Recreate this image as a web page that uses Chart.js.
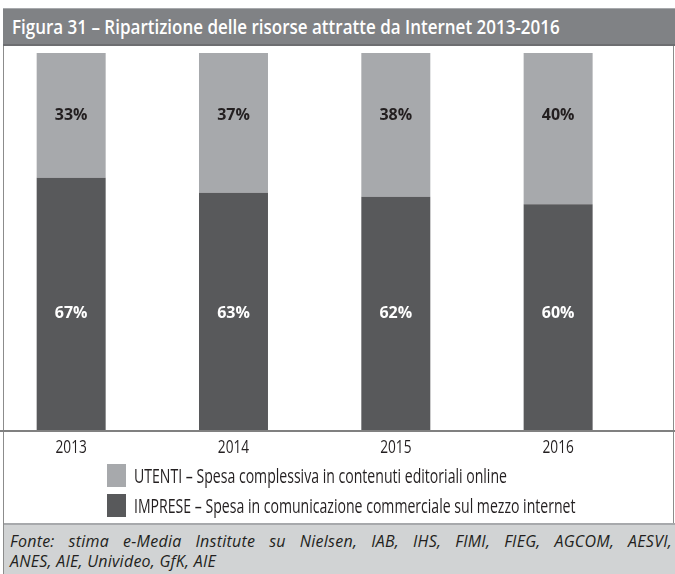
<!DOCTYPE html>
<html>
<head>
<meta charset="utf-8">
<script src="https://cdn.jsdelivr.net/npm/chart.js@4.4.1/dist/chart.umd.min.js"></script>
<style>
  html, body { margin: 0; padding: 0; background: #fff; }
  body { width: 675px; height: 574px; position: relative; overflow: hidden; font-family: 'Open Sans', sans-serif; color: #231f20; }
  #frame { position: absolute; left: 3px; top: 8px; width: 669px; height: 566px; border-left: 1px solid #8c8c8c; border-right: 1px solid #8c8c8c; }
  #titlebar { position: absolute; left: 3px; top: 8px; width: 672px; height: 35px; background: #808285; border-top: 1px solid #a7a9ac; border-bottom: 2px solid #6d6e71; }
  #title { position: absolute; left: 9px; top: 8px; font-size: 20px; line-height: 20px; font-weight: 600; color: #fff; white-space: nowrap; transform-origin: 0 0; }
  #chartwrap { position: absolute; left: -10px; top: 45px; width: 685px; height: 420px; }
  .leg-sw { position: absolute; left: 107px; width: 19px; height: 23px; }
  .leg-tx { position: absolute; left: 134px; font-size: 20px; line-height: 20px; white-space: nowrap; transform-origin: 0 0; color: #231f20; }
  #footer { position: absolute; left: 4px; top: 523px; width: 671px; height: 49px; background: #d1d3d4; border-top: 2px solid #a7a9ac; }
  #footer .l { position: absolute; left: 6px; width: 662px; font-size: 16px; line-height: 20px; font-style: italic; letter-spacing: 0.25px; white-space: nowrap; }
  #footer .l1 { top: 6px; text-align: justify; text-align-last: justify; white-space: normal; }
  #footer .l2 { top: 26px; }
</style>
</head>
<body>
<div id="frame"></div>
<div id="titlebar"><span id="title">Figura 31 – Ripartizione delle risorse attratte da Internet 2013-2016</span></div>
<div id="chartwrap"><canvas id="c" width="685" height="420"></canvas></div>
<div id="legend"></div>
<div id="footer">
  <div class="l l1">Fonte: stima e-Media Institute su Nielsen, IAB, IHS, FIMI, FIEG, AGCOM, AESVI,</div>
  <div class="l l2">ANES, AIE, Univideo, GfK, AIE</div>
</div>
<script>
// ---- data ----
const categories = ['2013', '2014', '2015', '2016'];
const impreseValues = [67, 63, 62, 60];
const utentiValues = [33, 37, 38, 40];
const seriesNames = [
  'IMPRESE – Spesa in comunicazione commerciale sul mezzo internet',
  'UTENTI – Spesa complessiva in contenuti editoriali online'
];
const yRange = [0, 100];

const DARK = '#58595b';
const LIGHT = '#a7a9ac';

// draws baseline, condensed tick labels and value labels
const decor = {
  id: 'decor',
  afterDatasetsDraw(chart, args, opts) {
    const ctx = chart.ctx;
    const xs = chart.scales.x, ys = chart.scales.y;
    const ca = chart.chartArea;
    ctx.save();
    ctx.strokeStyle = '#808080';
    ctx.lineWidth = 2;
    ctx.beginPath();
    ctx.moveTo(0, ca.bottom);
    ctx.lineTo(chart.width, ca.bottom);
    ctx.stroke();
    ctx.fillStyle = '#231f20';
    ctx.font = '18px "Open Sans", sans-serif';
    ctx.textAlign = 'center';
    ctx.textBaseline = 'alphabetic';
    chart.data.labels.forEach((lab, i) => {
      const x = xs.getPixelForValue(i);
      ctx.save();
      ctx.translate(x, ca.bottom + opts.tickOffset);
      ctx.scale(opts.condense, 1);
      ctx.fillText(lab, 0, 0);
      ctx.restore();
    });
    ctx.font = 'bold 16px "Open Sans", sans-serif';
    ctx.textBaseline = 'middle';
    chart.data.datasets.forEach((ds, di) => {
      const meta = chart.getDatasetMeta(di);
      meta.data.forEach((bar, i) => {
        ctx.fillStyle = ds.labelColor;
        ctx.fillText(ds.data[i] + '%', bar.x, ys.getPixelForValue(ds.labelAt));
      });
    });
    ctx.restore();
  }
};

const chart = new Chart(document.getElementById('c'), {
  type: 'bar',
  data: {
    labels: categories,
    datasets: [
      { label: seriesNames[0], data: impreseValues, backgroundColor: DARK, labelColor: '#ffffff', labelAt: 31.2 },
      { label: seriesNames[1], data: utentiValues, backgroundColor: LIGHT, labelColor: '#231f20', labelAt: 83.6 }
    ]
  },
  options: {
    responsive: false,
    animation: false,
    devicePixelRatio: 1,
    layout: { padding: { left: 0, right: 35.7, top: 8, bottom: 34 } },
    datasets: { bar: { categoryPercentage: 1, barPercentage: 0.425, borderWidth: 0 } },
    scales: {
      x: { stacked: true, display: false, offset: true },
      y: { stacked: true, display: false, min: yRange[0], max: yRange[1] }
    },
    plugins: {
      legend: { display: false },
      tooltip: { enabled: false },
      decor: { condense: 0.76, tickOffset: 21.5 }
    }
  },
  plugins: [decor]
});

const legendEl = document.getElementById('legend');
const order = [1, 0];
const tops = [464, 494];
order.forEach((di, k) => {
  const ds = chart.data.datasets[di];
  const sw = document.createElement('div');
  sw.className = 'leg-sw';
  sw.style.top = tops[k] + 'px';
  sw.style.background = ds.backgroundColor;
  legendEl.appendChild(sw);
  const tx = document.createElement('span');
  tx.className = 'leg-tx';
  tx.style.top = (tops[k] + 2) + 'px';
  tx.textContent = ds.label;
  legendEl.appendChild(tx);
});

function fit() {
  const t = document.getElementById('title');
  t.style.transform = 'none';
  t.style.transform = 'scaleX(' + (548 / t.offsetWidth) + ')';
  const txs = document.querySelectorAll('.leg-tx');
  txs.forEach(e => e.style.transform = 'none');
  const f = 373 / txs[0].offsetWidth;
  txs.forEach(e => e.style.transform = 'scaleX(' + f + ')');
}
fit();
if (document.fonts && document.fonts.ready) document.fonts.ready.then(() => { fit(); chart.draw(); });
</script>
</body>
</html>
